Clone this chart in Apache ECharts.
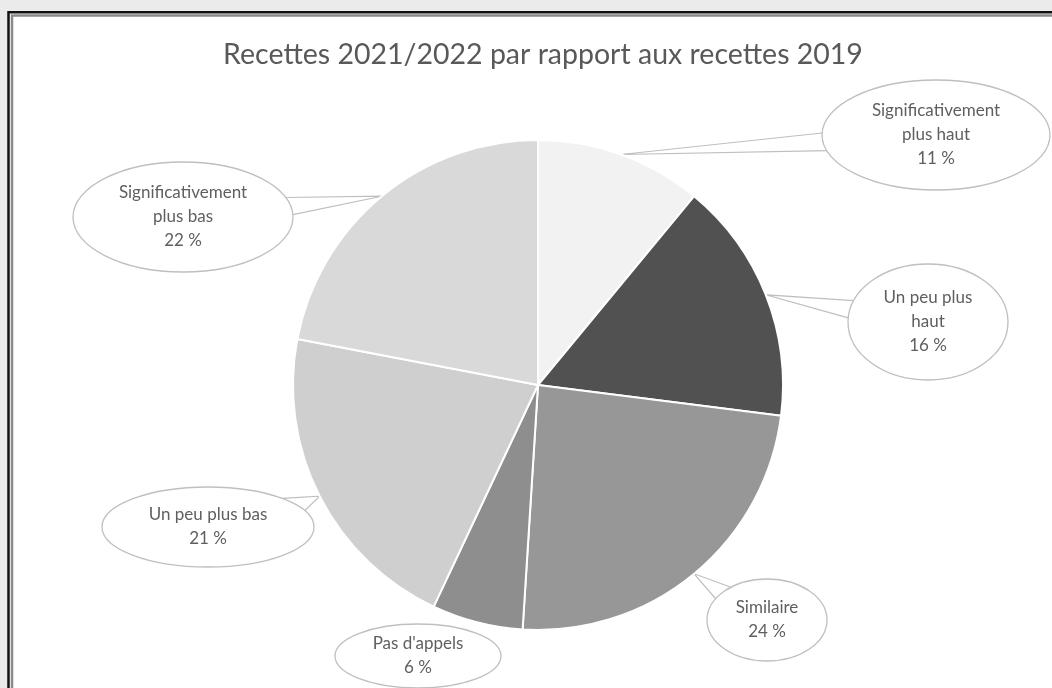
<!DOCTYPE html>
<html><head><meta charset="utf-8">
<script src="https://cdn.jsdelivr.net/npm/echarts@6/dist/echarts.min.js"></script>
<style>html,body{margin:0;padding:0;background:#ebebeb;} #c{width:1052px;height:688px;}</style>
</head><body><div id="c"></div>
<script>
const chartTitle = 'Recettes 2021/2022 par rapport aux recettes 2019';
const categories = ['Significativement\nplus haut', 'Un peu plus\nhaut', 'Similaire', "Pas d'appels", 'Un peu plus bas', 'Significativement\nplus bas'];
const values = [11, 16, 24, 6, 21, 22];

// styles / layout (not data)
const sliceColors = ['#f2f2f2', '#515151', '#979797', '#8e8e8e', '#cfcfcf', '#d9d9d9'];
const callouts = [[936, 135, 114, 55], [928, 322, 80, 58], [767, 620, 60, 41], [418, 656, 83, 32], [208, 527, 106, 40], [183, 217, 110, 55]];
const showTail = [true, true, true, false, true, true];

function edge(c, ang) {
  const cs = Math.cos(ang), sn = Math.sin(ang);
  const t = 1 / Math.sqrt((cs / c[2]) ** 2 + (sn / c[3]) ** 2);
  return [c[0] + t * cs, c[1] + t * sn];
}

const chart = echarts.init(document.getElementById('c'));
const graphics = [
  { type: 'rect', z: 0, shape: { x: 8.5, y: 12.3, width: 1100, height: 700 }, style: { fill: '#fff', stroke: '#111', lineWidth: 2.5 } },
  { type: 'rect', z: 0, shape: { x: 12, y: 15.6, width: 1100, height: 700 }, style: { fill: null, stroke: '#8a8a8a', lineWidth: 2.5 } }
];
callouts.forEach(c => graphics.push({ type: 'ellipse', z: 1, shape: { cx: c[0], cy: c[1], rx: c[2], ry: c[3] }, style: { fill: '#fff', stroke: '#bfbfbf', lineWidth: 1.3 } }));

chart.setOption({
  animation: false,
  title: { text: chartTitle, left: 538, top: 35, textAlign: 'center',
    textStyle: { fontFamily: 'Lato', fontSize: 28.5, fontWeight: 'normal', color: '#595959' } },
  graphic: graphics,
  series: [{
    type: 'pie', z: 2,
    center: [538, 385], radius: 245,
    startAngle: 90, clockwise: true,
    avoidLabelOverlap: false,
    itemStyle: { borderColor: '#fff', borderWidth: 2 },
    label: { show: true, position: 'outside', fontFamily: 'Lato', fontSize: 17, lineHeight: 24, color: '#5f5f5f',
      formatter: p => p.name + '\n' + p.value + ' %' },
    labelLine: { show: true, length: 10, length2: 10, lineStyle: { color: '#bfbfbf', width: 1.2 } },
    labelLayout: function (p) {
      const c = callouts[p.dataIndex];
      const out = { x: c[0], y: c[1], align: 'center', verticalAlign: 'middle' };
      if (p.labelLinePoints && showTail[p.dataIndex]) {
        const tip = p.labelLinePoints[0];
        const th = Math.atan2(tip[1] - c[1], tip[0] - c[0]);
        const e = edge(c, th);
        const d = Math.hypot(e[0] - c[0], e[1] - c[1]);
        const dl = 9 / d;
        out.labelLinePoints = [edge(c, th - dl), tip, edge(c, th + dl)];
      }
      return out;
    },
    data: categories.map((n, i) => ({ name: n, value: values[i], itemStyle: { color: sliceColors[i] },
      labelLine: { show: showTail[i] } }))
  }]
});
</script></body></html>
